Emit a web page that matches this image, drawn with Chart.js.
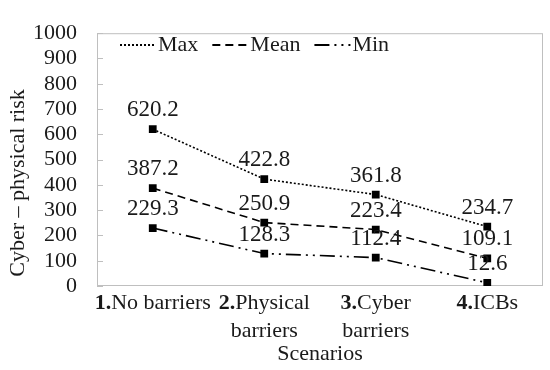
<!DOCTYPE html>
<html>
<head>
<meta charset="utf-8">
<script src="https://cdn.jsdelivr.net/npm/chart.js@4"></script>
<style>
html, body { margin: 0; padding: 0; background: #fff; }
</style>
</head>
<body>
<canvas id="myChart" width="550" height="370"></canvas>
<script>
// Dados do gráfico
const categories = [['1.No barriers'], ['2.Physical', 'barriers'], ['3.Cyber', 'barriers'], ['4.ICBs']];
const maxValues = [620.2, 422.8, 361.8, 234.7];
const meanValues = [387.2, 250.9, 223.4, 109.1];
const minValues = [229.3, 128.3, 112.4, 12.6];
const seriesNames = ['Max', 'Mean', 'Min'];
const yTitle = 'Cyber \u2013 physical risk';
const xTitle = 'Scenarios';

const FONT = '"Liberation Serif", "Times New Roman", serif';
const TXT = '#1a1a1a';

// Plugin para moldura, rótulos, legenda e títulos
const extras = {
    id: 'extras',
    beforeDatasetsDraw(chart) {
        const { ctx, chartArea: a } = chart;
        const y = chart.scales.y;
        ctx.save();
        ctx.strokeStyle = '#bfbfbf';
        ctx.lineWidth = 1;
        ctx.strokeRect(a.left + 0.5, a.top + 0.5, a.right - a.left - 1, a.bottom - a.top - 1);
        y.ticks.forEach(t => {
            const py = Math.round(y.getPixelForValue(t.value)) + 0.5;
            ctx.beginPath();
            ctx.moveTo(a.left, py);
            ctx.lineTo(a.left + 6, py);
            ctx.stroke();
        });
        ctx.restore();
    },
    afterDatasetsDraw(chart) {
        const { ctx, chartArea: a } = chart;
        ctx.save();
        ctx.fillStyle = TXT;
        ctx.textAlign = 'center';
        ctx.textBaseline = 'middle';

        // rótulos dos pontos
        ctx.font = '23px ' + FONT;
        chart.data.datasets.forEach((ds, i) => {
            const meta = chart.getDatasetMeta(i);
            meta.data.forEach((pt, j) => {
                ctx.fillText(String(ds.data[j]), pt.x, pt.y - 19);
            });
        });

        // legenda dentro da área
        let lx = 120;
        const ly = 45;
        ctx.textAlign = 'left';
        ctx.font = '22px ' + FONT;
        chart.data.datasets.forEach(ds => {
            ctx.save();
            ctx.strokeStyle = '#000';
            ctx.lineWidth = 1.8;
            ctx.setLineDash(ds.borderDash);
            ctx.beginPath();
            ctx.moveTo(lx, ly);
            ctx.lineTo(lx + 36, ly);
            ctx.stroke();
            ctx.restore();
            lx += 38;
            ctx.fillText(ds.label, lx, ly);
            lx += ctx.measureText(ds.label).width + 14;
        });

        // rótulos do eixo x com número em negrito
        const x = chart.scales.x;
        categories.forEach((lines, i) => {
            const cx = x.getPixelForValue(i);
            lines.forEach((line, k) => {
                const ty = 303 + k * 28;
                let bold = '';
                let rest = line;
                if (k == 0) {
                    const p = line.indexOf('.');
                    bold = line.slice(0, p + 1);
                    rest = line.slice(p + 1);
                }
                ctx.font = 'bold 22px ' + FONT;
                const wb = ctx.measureText(bold).width;
                ctx.font = '22px ' + FONT;
                const wr = ctx.measureText(rest).width;
                let sx = cx - (wb + wr) / 2;
                ctx.font = 'bold 22px ' + FONT;
                ctx.fillText(bold, sx, ty);
                ctx.font = '22px ' + FONT;
                ctx.fillText(rest, sx + wb, ty);
            });
        });

        // títulos
        ctx.textAlign = 'center';
        ctx.font = '22px ' + FONT;
        ctx.fillText(xTitle, (a.left + a.right) / 2, 354);
        ctx.translate(18, 183);
        ctx.rotate(-Math.PI / 2);
        ctx.fillText(yTitle, 0, 0);
        ctx.restore();
    }
};

const lineBase = {
    borderColor: '#000',
    backgroundColor: '#000',
    borderWidth: 1.6,
    pointStyle: 'rect',
    pointRadius: 5.5,
    pointBorderWidth: 0,
    pointBackgroundColor: '#000',
    tension: 0,
    fill: false
};

const ctx = document.getElementById('myChart').getContext('2d');
new Chart(ctx, {
    type: 'line',
    data: {
        labels: categories.map(c => c.join(' ')),
        datasets: [
            { ...lineBase, label: seriesNames[0], data: maxValues, borderDash: [2, 2] },
            { ...lineBase, label: seriesNames[1], data: meanValues, borderDash: [8, 5] },
            { ...lineBase, label: seriesNames[2], data: minValues, borderDash: [15, 5, 2, 5, 2, 5] }
        ]
    },
    options: {
        responsive: false,
        animation: false,
        devicePixelRatio: 1,
        layout: { padding: { top: 15, right: 7, left: 0, bottom: 0 } },
        plugins: {
            legend: { display: false },
            tooltip: { enabled: false }
        },
        scales: {
            x: {
                offset: true,
                grid: { display: false, drawTicks: false },
                border: { display: false },
                ticks: { display: false },
                afterFit(scale) { scale.height = 84; }
            },
            y: {
                min: 0,
                max: 1000,
                grid: { display: false, drawTicks: false },
                border: { display: false },
                ticks: {
                    stepSize: 100,
                    autoSkip: false,
                    padding: 20,
                    color: TXT,
                    font: { family: FONT, size: 22 },
                    callback: v => String(v)
                },
                afterFit(scale) { scale.width = 97; }
            }
        }
    },
    plugins: [extras]
});
</script>
</body>
</html>
